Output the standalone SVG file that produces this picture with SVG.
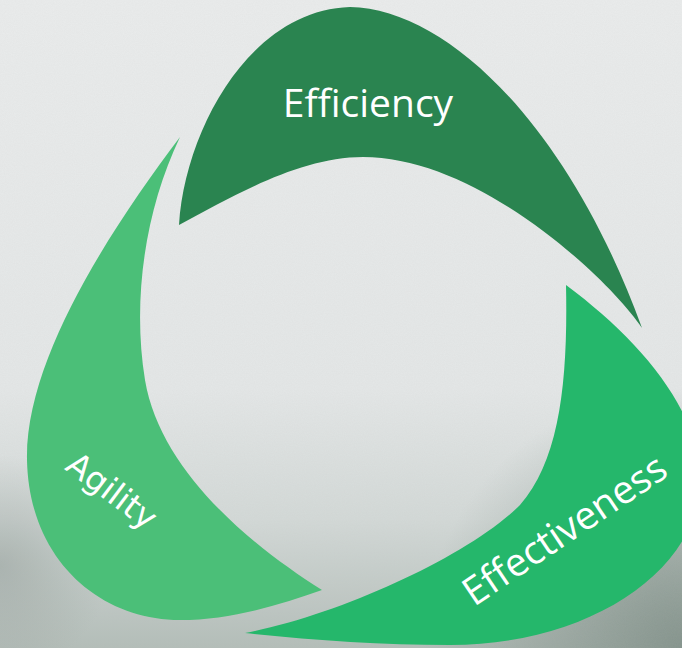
<svg xmlns="http://www.w3.org/2000/svg" width="682" height="648" viewBox="0 0 682 648">
  <defs>
    <linearGradient id="bg" x1="0" y1="0" x2="0" y2="1">
      <stop offset="0" stop-color="#EAECEC"/>
      <stop offset="0.6" stop-color="#E4E7E7"/>
      <stop offset="0.8" stop-color="#D3D9D7"/>
      <stop offset="1" stop-color="#B3BDB8"/>
    </linearGradient>
    <radialGradient id="br" cx="682" cy="648" r="260" gradientUnits="userSpaceOnUse">
      <stop offset="0" stop-color="#7E8E86" stop-opacity="0.9"/>
      <stop offset="1" stop-color="#7E8E86" stop-opacity="0"/>
    </radialGradient>
    <radialGradient id="bl" cx="0" cy="565" r="110" gradientUnits="userSpaceOnUse">
      <stop offset="0" stop-color="#8C9893" stop-opacity="0.5"/>
      <stop offset="1" stop-color="#8C9893" stop-opacity="0"/>
    </radialGradient>
    <filter id="paper" x="0" y="0" width="100%" height="100%">
      <feTurbulence type="fractalNoise" baseFrequency="0.9" numOctaves="2" seed="3" result="n"/>
      <feColorMatrix type="matrix" values="0 0 0 0 0.5  0 0 0 0 0.5  0 0 0 0 0.5  0 0 0 0.12 0"/>
    </filter>
    <style>
      .lbl { fill: #FFFFFF; text-anchor: middle; }
      .cal { font-family: "Open Sans", "Liberation Sans", sans-serif; font-size: 39px; }
      .geo { font-family: "DejaVu Sans", "Liberation Sans", sans-serif; font-size: 33px; }
    </style>
  </defs>

  <g id="background">
    <rect width="682" height="648" fill="url(#bg)"/>
    <rect width="682" height="648" fill="url(#br)"/>
    <rect width="682" height="648" fill="url(#bl)"/>
    <rect width="682" height="648" filter="url(#paper)"/>
  </g>

  <g id="connectors"></g>

  <g id="node-efficiency">
    <path d="M179,225 C185,130 250,10 350,7 C450,9 570,130 642,328 C610,280 480,157 363,157 C300,157 235,195 179,225 Z" fill="#2A8450"/>
    <text class="lbl cal" x="368" y="117">Efficiency</text>
  </g>

  <g id="node-agility">
    <path d="M180,137 C110,230 25,360 27,460 C29,560 100,620 180,620 C230,620 280,605 322,590 C250,545 160,470 145,380 C132,300 145,210 180,137 Z" fill="#4BBF78"/>
    <text class="lbl geo" x="0" y="0" transform="translate(105,500) rotate(37)">Agility</text>
  </g>

  <g id="node-effectiveness">
    <path d="M566,285 C640,340 700,410 700,480 C700,570 590,645 450,645 C380,645 310,640 245,633 C340,615 470,555 520,505 C560,460 568,380 566,285 Z" fill="#25B76B"/>
    <text class="lbl cal" x="0" y="0" transform="translate(572,541) rotate(-34)">Effectiveness</text>
  </g>
</svg>
